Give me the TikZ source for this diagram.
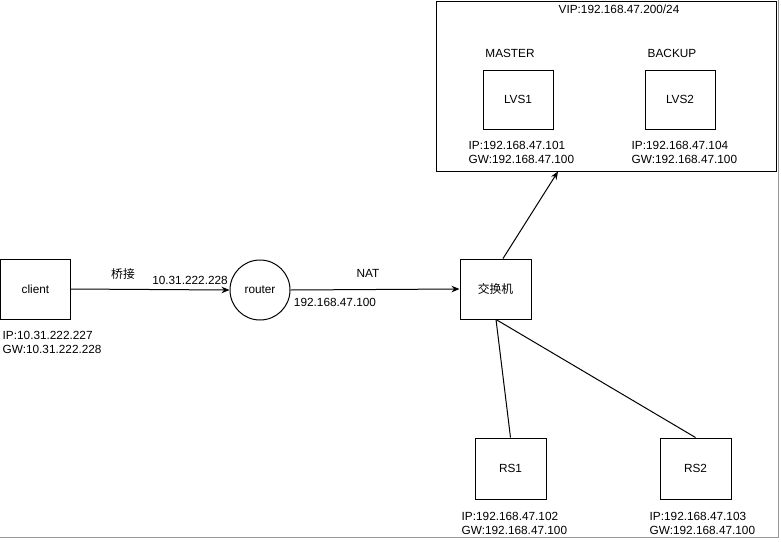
\documentclass[tikz,border=0pt]{standalone}
\usepackage{fontspec}
\setmainfont{Liberation Sans}
\newfontfamily\cjk{Noto Sans CJK SC}
\usetikzlibrary{arrows.meta}
\begin{document}
\begin{tikzpicture}[x=1pt,y=-1pt,
  font=\fontsize{11.8}{14}\selectfont,
  box/.style={draw,line width=1pt,minimum width=70pt,minimum height=60pt,inner sep=0pt},
  lbl/.style={inner sep=0pt,align=left,anchor=west},
  conn/.style={line width=1pt},
  arr/.style={conn,-{Stealth[length=8pt,width=6.5pt]}}]
\useasboundingbox (0,0) rectangle (781,541);
% frame shadow
\draw[gray!80,line width=1.8pt] (0,537.5) -- (778.5,537.5) -- (778.5,0);
% container
\node[draw,line width=1pt,minimum width=340pt,minimum height=170pt,inner sep=0pt] (cont) at (606,86) {};
\node[inner sep=0pt] (vip) at (619,9) {VIP:192.168.47.200/24};
\node[inner sep=0pt] (master) at (510,53) {MASTER};
\node[inner sep=0pt] (backup) at (672,53) {BACKUP};
\node[box,minimum height=59pt] (lvs1) at (518,99.5) {LVS1};
\node[box,minimum height=59pt] (lvs2) at (680,99.5) {LVS2};
\node[lbl] (lvs1ip) at (468.5,152) {IP:192.168.47.101\\GW:192.168.47.100};
\node[lbl] (lvs2ip) at (631.5,152) {IP:192.168.47.104\\GW:192.168.47.100};
% client
\node[box] (client) at (35.5,289) {client};
\node[lbl] (clientip) at (2.5,342) {IP:10.31.222.227\\GW:10.31.222.228};
% router
\node[draw,circle,line width=1pt,minimum size=60pt,inner sep=0pt] (router) at (260,290) {router};
\node[inner sep=0pt] (bridge) at (123,274) {\cjk 桥接};
\node[inner sep=0pt] (rip1) at (190,280) {10.31.222.228};
\node[inner sep=0pt] (nat) at (368,273) {NAT};
\node[inner sep=0pt] (rip2) at (335,302) {192.168.47.100};
% switch
\node[box,minimum width=71pt] (switch) at (495.5,289) {\cjk 交换机};
% real servers
\node[box,minimum width=71pt,minimum height=61pt] (rs1) at (510.5,468.5) {RS1};
\node[box,minimum width=71pt,minimum height=61pt] (rs2) at (695.5,468.5) {RS2};
\node[lbl] (rs1ip) at (461.5,523) {IP:192.168.47.102\\GW:192.168.47.100};
\node[lbl] (rs2ip) at (649.5,523) {IP:192.168.47.103\\GW:192.168.47.100};
% connectors
\draw[arr] (client.east) -- (router.west);
\draw[arr] (router.east) -- (switch.west);
\draw[arr] ([xshift=7.5pt]switch.north) -- ([xshift=-48pt]cont.south);
\draw[conn] ([xshift=0.5pt]switch.south) -- (rs1.north);
\draw[conn] ([xshift=0.5pt]switch.south) -- (rs2.north);
\end{tikzpicture}
\end{document}
